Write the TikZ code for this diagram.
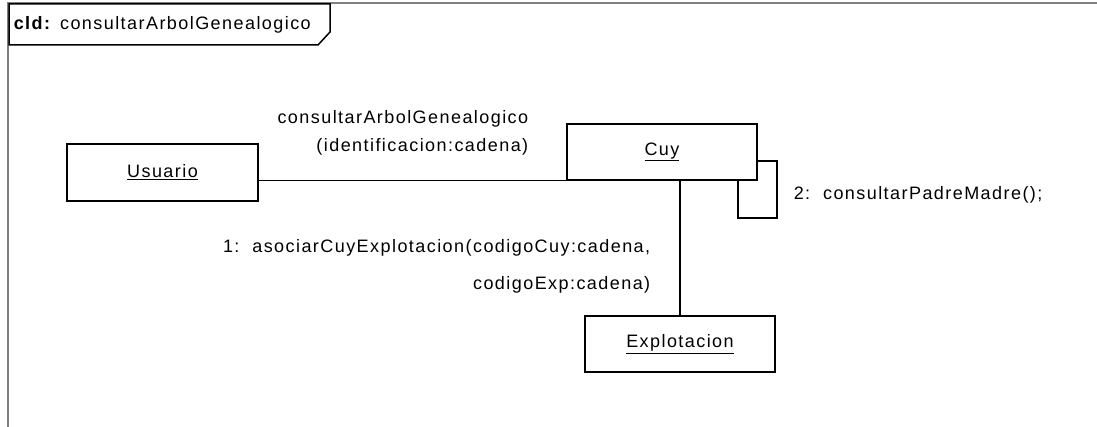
\documentclass[tikz,border=0pt]{standalone}
\usepackage{fontspec}
\setmainfont{Liberation Sans}[LetterSpace=8]
\usepackage{tikz}
\usetikzlibrary{arrows.meta, positioning}

\begin{document}
\begin{tikzpicture}[
  x=1pt, y=-1pt, line width=1.5pt,
  every node/.style={font=\fontsize{18}{20}\selectfont, inner sep=0pt},
  obj/.style={draw, minimum width=190pt, minimum height=56pt, align=center},
  msg/.style={align=right}
]
  \useasboundingbox (0,0) rectangle (1097,427);
  % frame and tab
  \draw[gray, line width=2pt] (8,427) -- (8,3) -- (1097,3);
  \draw[fill=white] (9,4) -- (330,4) -- (330,32) -- (318,45) -- (9,45) -- cycle;
  \node[anchor=west] (title) at (13,25) {\textbf{cld:} consultarArbolGenealogico};

  \node[obj, minimum width=191pt, minimum height=57pt] (Usuario) at (162.5,172.5) {\underline{Usuario}};
  \node[obj] (Cuy) at (662,152) {\underline{Cuy}};
  \node[obj] (Explotacion) at (680,344) {\underline{Explotacion}};

  \draw (Usuario.east |- Cuy.south west) -- (Cuy.south west);
  \draw (Cuy.south -| Explotacion.north) -- (Explotacion.north);
  \draw ([yshift=-9pt]Cuy.east) -- ++(19,0) -- ++(0,57) -- ++(-39,0) -- ([xshift=-20pt]Cuy.south east);

  \node[msg, anchor=east] (m0) at (529,133) {consultarArbolGenealogico\\[8pt](identificacion:cadena)};
  \node[msg, anchor=east] (m1) at (651,266) {1:\ \ asociarCuyExplotacion(codigoCuy:cadena,\\[17pt]codigoExp:cadena)};
  \node[anchor=west] (m2) at (793,195) {2:\ \ consultarPadreMadre();};
\end{tikzpicture}
\end{document}
